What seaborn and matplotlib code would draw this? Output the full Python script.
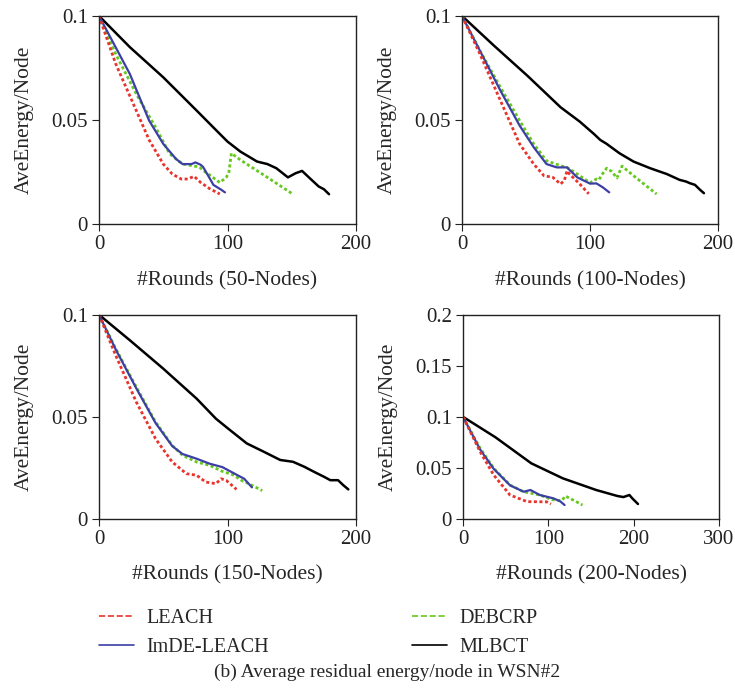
import matplotlib
matplotlib.use("Agg")
import matplotlib.pyplot as plt
from matplotlib.lines import Line2D
import seaborn as sns

# ---- data ----
# 50 nodes
mlbct_50_x = [0, 24, 50, 76, 94, 100, 110, 123, 131, 138, 147, 153, 158, 164, 171, 175, 179]
mlbct_50_y = [0.100, 0.085, 0.0705, 0.0545, 0.0433, 0.0396, 0.0348, 0.030, 0.0288, 0.0268,
              0.0224, 0.0244, 0.0255, 0.022, 0.018, 0.0167, 0.0143]
debcrp_50_x = [0, 13, 29, 44, 55, 65, 78, 83, 86, 94, 99, 101, 103, 110, 130, 151]
debcrp_50_y = [0.100, 0.0817, 0.0625, 0.0465, 0.0337, 0.0288, 0.0274, 0.0248, 0.0236, 0.0199,
               0.0224, 0.0245, 0.034, 0.0308, 0.0228, 0.0143]
imde_50_x = [0, 24, 39, 50, 60, 65, 72, 75, 79, 81, 87, 89, 95, 98]
imde_50_y = [0.100, 0.0721, 0.0497, 0.0385, 0.0312, 0.0288, 0.0288, 0.0296, 0.0285, 0.0274,
             0.021, 0.0188, 0.0165, 0.0152]
leach_50_x = [0, 13, 29, 39, 50, 57, 64, 69, 74, 79, 86, 94]
leach_50_y = [0.100, 0.077, 0.0545, 0.0404, 0.0288, 0.024, 0.0216, 0.0216, 0.0229, 0.0200,
              0.0170, 0.0144]

# 100 nodes
mlbct_100_x = [0, 25, 51, 77, 92, 103, 108, 113, 123, 134, 147, 160, 170, 175, 178, 182, 186, 189]
mlbct_100_y = [0.100, 0.0857, 0.0713, 0.0561, 0.0492, 0.0433, 0.0404, 0.0385, 0.034, 0.030,
               0.0268, 0.024, 0.0212, 0.0204, 0.0196, 0.0188, 0.0164, 0.0148]
debcrp_100_x = [0, 14, 30, 45, 56, 66, 77, 82, 90, 100, 105, 107, 109, 113, 117, 121, 125, 136, 152]
debcrp_100_y = [0.100, 0.0833, 0.0657, 0.0497, 0.0385, 0.0304, 0.028, 0.0272, 0.024, 0.0198,
                0.0216, 0.0212, 0.0235, 0.0268, 0.0252, 0.0221, 0.0278, 0.0222, 0.0144]
imde_100_x = [0, 30, 45, 56, 66, 74, 82, 90, 100, 105, 110, 115]
imde_100_y = [0.100, 0.0641, 0.0473, 0.0369, 0.0288, 0.0272, 0.0272, 0.0224, 0.0194, 0.0195,
              0.0176, 0.0152]
leach_100_x = [0, 14, 30, 45, 56, 64, 71, 77, 80, 82, 84, 92, 99]
leach_100_y = [0.100, 0.0817, 0.0593, 0.0385, 0.0288, 0.0232, 0.0224, 0.0192, 0.021, 0.0256,
               0.024, 0.0192, 0.0145]

# 150 nodes
mlbct_150_x = [0, 24, 50, 76, 91, 100, 112, 115, 128, 141, 151, 160, 167, 175, 180, 186, 190, 194]
mlbct_150_y = [0.100, 0.0875, 0.0736, 0.0589, 0.0491, 0.0445, 0.0385, 0.037, 0.033, 0.0289, 0.028,
               0.0255, 0.0232, 0.0207, 0.019, 0.019, 0.0166, 0.0145]
debcrp_150_x = [0, 13, 29, 44, 57, 65, 76, 86, 96, 104, 112, 115, 127]
debcrp_150_y = [0.100, 0.0834, 0.0646, 0.0475, 0.036, 0.0312, 0.0279, 0.0263, 0.0233, 0.0217,
                0.0185, 0.0178, 0.0139]
imde_150_x = [0, 13, 29, 44, 57, 65, 68, 76, 86, 96, 107, 113, 119]
imde_150_y = [0.100, 0.083, 0.0640, 0.0470, 0.0357, 0.0318, 0.0312, 0.0295, 0.0271, 0.0254,
              0.0217, 0.0197, 0.0155]
leach_150_x = [0, 13, 29, 44, 57, 68, 76, 83, 91, 95, 99, 107]
leach_150_y = [0.100, 0.0801, 0.0573, 0.0393, 0.0279, 0.0222, 0.0214, 0.0181, 0.0173, 0.0197,
               0.0189, 0.0145]

# 200 nodes
mlbct_200_x = [0, 38, 80, 117, 156, 181, 188, 195, 198, 205]
mlbct_200_y = [0.100, 0.080, 0.0545, 0.0398, 0.0284, 0.0225, 0.0215, 0.0235, 0.0205, 0.0147]
debcrp_200_x = [0, 20, 36, 55, 71, 90, 104, 110, 116, 120, 140]
debcrp_200_y = [0.100, 0.0692, 0.0496, 0.0333, 0.0267, 0.0235, 0.019, 0.0183, 0.0183, 0.0225, 0.0137]
imde_200_x = [0, 20, 36, 55, 71, 79, 90, 106, 114, 119]
imde_200_y = [0.100, 0.068, 0.049, 0.033, 0.0267, 0.0284, 0.0235, 0.0202, 0.0172, 0.0137]
leach_200_x = [0, 20, 36, 55, 75, 98, 103]
leach_200_y = [0.100, 0.0659, 0.043, 0.0235, 0.017, 0.0168, 0.0147]

node_counts = [50, 100, 150, 200]
x_limits = [200, 200, 200, 300]
y_limits = [0.1, 0.1, 0.1, 0.2]
x_ticks = [[0, 100, 200], [0, 100, 200], [0, 100, 200], [0, 100, 200, 300]]
y_ticks = [[0, 0.05, 0.1], [0, 0.05, 0.1], [0, 0.05, 0.1], [0, 0.05, 0.1, 0.15, 0.2]]

series_names = ["LEACH", "ImDE-LEACH", "DEBCRP", "MLBCT"]
colors = {"LEACH": "#e8342c", "ImDE-LEACH": "#3b3fa6", "DEBCRP": "#66c81e", "MLBCT": "#000000"}

panel_data = {
    50: [(leach_50_x, leach_50_y), (imde_50_x, imde_50_y), (debcrp_50_x, debcrp_50_y), (mlbct_50_x, mlbct_50_y)],
    100: [(leach_100_x, leach_100_y), (imde_100_x, imde_100_y), (debcrp_100_x, debcrp_100_y), (mlbct_100_x, mlbct_100_y)],
    150: [(leach_150_x, leach_150_y), (imde_150_x, imde_150_y), (debcrp_150_x, debcrp_150_y), (mlbct_150_x, mlbct_150_y)],
    200: [(leach_200_x, leach_200_y), (imde_200_x, imde_200_y), (debcrp_200_x, debcrp_200_y), (mlbct_200_x, mlbct_200_y)],
}

sns.set_style("ticks")
plt.rcParams['font.family'] = ['Liberation Serif', 'DejaVu Serif']
plt.rcParams['font.size'] = 15
plt.rcParams['axes.linewidth'] = 1.0
plt.rcParams['xtick.major.size'] = 5
plt.rcParams['ytick.major.size'] = 5
plt.rcParams['xtick.color'] = '#222222'
plt.rcParams['ytick.color'] = '#222222'

fig = plt.figure(figsize=(7.35, 6.96), dpi=100)

# axes boxes [left, bottom, width, height] in figure fractions
boxes = [
    [0.1347, 0.6782, 0.3497, 0.2989],
    [0.6286, 0.6782, 0.3483, 0.2989],
    [0.1347, 0.2543, 0.3497, 0.2935],
    [0.6300, 0.2543, 0.3483, 0.2935],
]

styles = {
    "LEACH": dict(linestyle=(0, (1.1, 0.9)), linewidth=2.0),
    "ImDE-LEACH": dict(linestyle="-", linewidth=1.6),
    "DEBCRP": dict(linestyle=(0, (1.1, 0.9)), linewidth=2.0),
    "MLBCT": dict(linestyle="-", linewidth=1.8),
}

for i, n in enumerate(node_counts):
    ax = fig.add_axes(boxes[i])
    # MLBCT first so the others sit on top
    for k in [3, 2, 1, 0]:
        name = series_names[k]
        xs, ys = panel_data[n][k]
        sns.lineplot(x=xs, y=ys, ax=ax, color=colors[name], sort=False,
                     estimator=None, **styles[name])
    ax.set_xlim(0, x_limits[i])
    ax.set_ylim(0, y_limits[i])
    ax.set_xticks(x_ticks[i])
    ax.set_yticks(y_ticks[i])
    ax.set_yticklabels(["{:g}".format(v) for v in y_ticks[i]])
    ax.set_xticklabels(["{:g}".format(v) for v in x_ticks[i]])
    ax.tick_params(labelsize=15, pad=3)
    ax.set_xlabel(f"#Rounds ({n}-Nodes)", fontsize=15.5)
    ax.set_ylabel("AveEnergy/Node", fontsize=15.5)
    ax.xaxis.set_label_coords(0.5, -0.225)
    ax.yaxis.set_label_coords(-0.255, 0.5)
    for sp in ax.spines.values():
        sp.set_color('#222222')

handles = [
    Line2D([], [], color=colors["LEACH"], linestyle="--", linewidth=1.2),
    Line2D([], [], color=colors["ImDE-LEACH"], linestyle="-", linewidth=1.2),
    Line2D([], [], color=colors["DEBCRP"], linestyle="--", linewidth=1.2),
    Line2D([], [], color=colors["MLBCT"], linestyle="-", linewidth=1.2),
]
fig.legend(handles, series_names, ncol=2, loc="upper left",
           bbox_to_anchor=(0.1347, 0.1255), frameon=False, fontsize=14.5,
           handlelength=1.75, handletextpad=0.6, columnspacing=7.1,
           labelspacing=0.5, borderpad=0, borderaxespad=0)

fig.text(0.527, 0.0345, "(b) Average residual energy/node in WSN#2",
         ha="center", va="center", fontsize=14)

fig.savefig("out.png", dpi=100)
